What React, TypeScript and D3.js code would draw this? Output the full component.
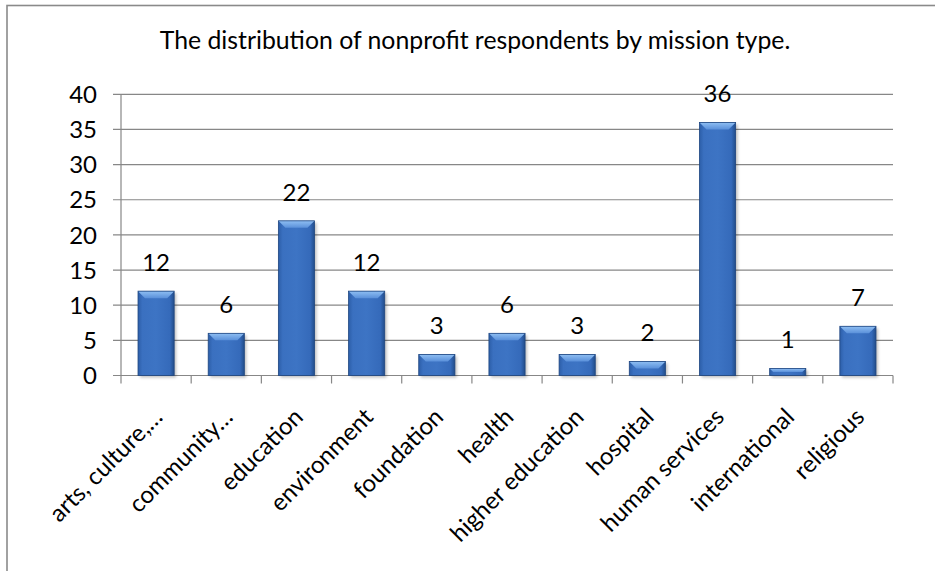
import React from "react";
import * as d3 from "d3";

const title = "The distribution of nonprofit respondents by mission type.";
const categories = [
  "arts, culture,…",
  "community…",
  "education",
  "environment",
  "foundation",
  "health",
  "higher education",
  "hospital",
  "human services",
  "international",
  "religious",
];
const values = [12, 6, 22, 12, 3, 6, 3, 2, 36, 1, 7];
const yTicks = [0, 5, 10, 15, 20, 25, 30, 35, 40];

const W = 935;
const H = 571;
const plotLeft = 121;
const plotRight = 893;
const plotTop = 94.3;
const plotBottom = 375.5;
const FONT = "Lato, 'Open Sans', sans-serif";

export default function App() {
  const x = d3.scaleBand<string>().domain(categories).range([plotLeft, plotRight]).padding(0);
  const y = d3.scaleLinear().domain([0, 40]).range([plotBottom, plotTop]);
  const bw = x.bandwidth() * 0.515;
  const gridColor = "#878787";

  return (
    <svg
      width={W}
      height={H}
      style={{ position: "absolute", left: 0, top: 0, background: "#fff" }}
      fontFamily={FONT}
    >
      <defs>
        <linearGradient id="body" x1="0" x2="1" y1="0" y2="0">
          <stop offset="0%" stopColor="#2c5ea8" />
          <stop offset="12%" stopColor="#3a70c0" />
          <stop offset="50%" stopColor="#3d74c4" />
          <stop offset="88%" stopColor="#356aba" />
          <stop offset="100%" stopColor="#224d8a" />
        </linearGradient>
        <linearGradient id="bevelTop" x1="0" x2="0" y1="0" y2="1">
          <stop offset="0%" stopColor="#8fbff3" />
          <stop offset="100%" stopColor="#5a90da" />
        </linearGradient>
        <filter id="shadow" x="-20%" y="-20%" width="140%" height="140%">
          <feGaussianBlur stdDeviation="1.5" />
        </filter>
      </defs>

      {/* chart frame */}
      <rect x={7} y={5.5} width={W + 20} height={H + 20} fill="#fff" stroke="#8a8a8a" strokeWidth={1.6} />

      {/* title */}
      <text x={475} y={49} textAnchor="middle" fontSize={24.8} fill="#000">
        {title}
      </text>

      {/* gridlines */}
      {yTicks.map((t) => (
        <line
          key={"g" + t}
          x1={plotLeft - 8}
          x2={plotRight}
          y1={y(t)}
          y2={y(t)}
          stroke={gridColor}
          strokeWidth={1.2}
        />
      ))}

      {/* y axis */}
      <line x1={plotLeft} x2={plotLeft} y1={plotTop} y2={plotBottom} stroke={gridColor} strokeWidth={1.2} />
      {yTicks.map((t) => (
        <text key={"yt" + t} x={97} y={y(t)} dy="0.36em" textAnchor="end" fontSize={24} fill="#000">
          {t}
        </text>
      ))}

      {/* x axis tick marks */}
      {categories.map((c) => (
        <line
          key={"xt" + c}
          x1={x(c)!}
          x2={x(c)!}
          y1={plotBottom}
          y2={plotBottom + 8}
          stroke={gridColor}
          strokeWidth={1.2}
        />
      ))}
      <line x1={plotRight} x2={plotRight} y1={plotBottom} y2={plotBottom + 8} stroke={gridColor} strokeWidth={1.2} />

      {/* bars */}
      {categories.map((c, i) => {
        const v = values[i];
        const cx = x(c)! + x.bandwidth() / 2;
        const x0 = cx - bw / 2;
        const top = y(v);
        const h = plotBottom - top;
        const b = Math.min(7, h / 2);
        return (
          <g key={"b" + c}>
            <rect x={x0 + 2} y={top + 2} width={bw} height={h} fill="#000" opacity={0.25} filter="url(#shadow)" />
            <rect x={x0} y={top} width={bw} height={h} fill="url(#body)" />
            <polygon
              points={`${x0},${top} ${x0 + bw},${top} ${x0 + bw - b},${top + b} ${x0 + b},${top + b}`}
              fill="url(#bevelTop)"
            />
            <rect x={x0} y={top} width={bw} height={h} fill="none" stroke="#1f4680" strokeWidth={0.8} />
          </g>
        );
      })}

      {/* data labels */}
      {categories.map((c, i) => (
        <text
          key={"l" + c}
          x={x(c)! + x.bandwidth() / 2}
          y={y(values[i]) - 20}
          textAnchor="middle"
          fontSize={24}
          fill="#000"
        >
          {values[i]}
        </text>
      ))}

      {/* category labels */}
      {categories.map((c) => {
        const cx = x(c)! + x.bandwidth() / 2 + 2;
        const cy = plotBottom + 37;
        return (
          <text
            key={"c" + c}
            transform={`translate(${cx},${cy}) rotate(-45)`}
            textAnchor="end"
            dy="0.35em"
            fontSize={24}
            fill="#000"
          >
            {c}
          </text>
        );
      })}
    </svg>
  );
}
